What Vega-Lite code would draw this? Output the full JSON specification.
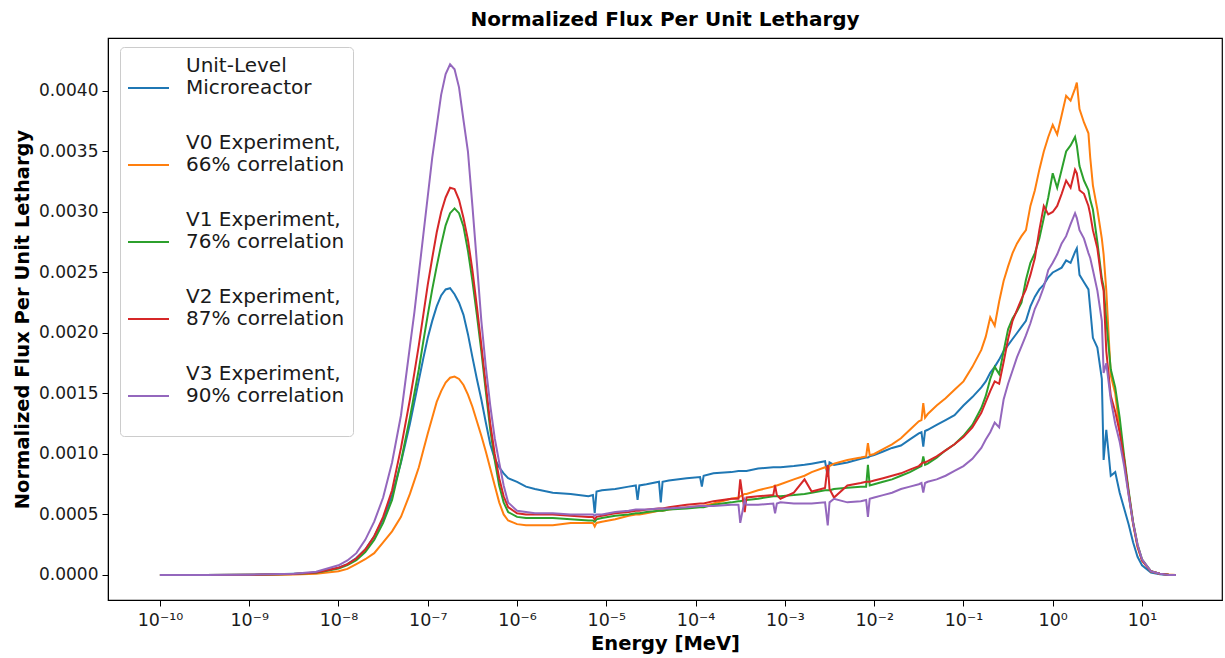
{
"$schema": "https://vega.github.io/schema/vega-lite/v6.json",
"width": 1114, "height": 562,
"autosize": {"type": "none"},
"padding": {"left": 108, "top": 38, "right": 3, "bottom": 58},
"background": "white",
"title": {"text": "Normalized Flux Per Unit Lethargy", "font": "DejaVu Sans", "fontSize": 20, "fontWeight": "bold", "color": "black", "offset": 8, "anchor": "middle"},
"config": {"view": {"stroke": "black", "strokeWidth": 1.2}, "font": "DejaVu Sans"},
"data": {"values": [
{"E":1e-10,"UL":0,"V0":0,"V1":0,"V2":0,"V3":0},
{"E":3.162e-10,"UL":0,"V0":0,"V1":0,"V2":0,"V3":0},
{"E":1e-9,"UL":0.000001,"V0":0,"V1":0.000001,"V2":0.000001,"V3":0.000002},
{"E":3.162e-9,"UL":0.00001,"V0":0.000003,"V1":0.000007,"V2":0.000008,"V3":0.00001},
{"E":5.623e-9,"UL":0.000017,"V0":0.00001,"V1":0.000018,"V2":0.00002,"V3":0.000027},
{"E":1e-8,"UL":0.00006,"V0":0.00003,"V1":0.000053,"V2":0.000059,"V3":0.00008},
{"E":1.259e-8,"UL":0.00009,"V0":0.00005,"V1":0.000081,"V2":0.00009,"V3":0.00012},
{"E":1.585e-8,"UL":0.00014,"V0":0.00009,"V1":0.000122,"V2":0.000136,"V3":0.00018},
{"E":1.995e-8,"UL":0.00021,"V0":0.00013,"V1":0.00019,"V2":0.00021,"V3":0.00029},
{"E":2.512e-8,"UL":0.00032,"V0":0.00018,"V1":0.00029,"V2":0.00032,"V3":0.00044},
{"E":3.162e-8,"UL":0.00046,"V0":0.00027,"V1":0.00043,"V2":0.00048,"V3":0.00064},
{"E":3.981e-8,"UL":0.00066,"V0":0.00036,"V1":0.00062,"V2":0.0007,"V3":0.00093},
{"E":5.012e-8,"UL":0.00093,"V0":0.00048,"V1":0.00094,"V2":0.00105,"V3":0.00132},
{"E":6.31e-8,"UL":0.00125,"V0":0.00067,"V1":0.0013,"V2":0.00145,"V3":0.00189},
{"E":7.079e-8,"UL":0.00143,"V0":0.00078,"V1":0.0015,"V2":0.00167,"V3":0.00217},
{"E":7.943e-8,"UL":0.00161,"V0":0.00089,"V1":0.0017,"V2":0.0019,"V3":0.00249},
{"E":8.913e-8,"UL":0.00179,"V0":0.00103,"V1":0.00193,"V2":0.00215,"V3":0.00281},
{"E":1e-7,"UL":0.00196,"V0":0.00117,"V1":0.00215,"V2":0.0024,"V3":0.00313},
{"E":1.122e-7,"UL":0.0021,"V0":0.0013,"V1":0.00236,"V2":0.00262,"V3":0.00345},
{"E":1.259e-7,"UL":0.00222,"V0":0.00143,"V1":0.00255,"V2":0.00283,"V3":0.00371},
{"E":1.413e-7,"UL":0.00231,"V0":0.00152,"V1":0.00273,"V2":0.003,"V3":0.00397},
{"E":1.585e-7,"UL":0.00236,"V0":0.00159,"V1":0.00289,"V2":0.00312,"V3":0.00414},
{"E":1.778e-7,"UL":0.00237,"V0":0.00163,"V1":0.00299,"V2":0.0032,"V3":0.00422},
{"E":1.995e-7,"UL":0.00232,"V0":0.00164,"V1":0.00303,"V2":0.00319,"V3":0.00418},
{"E":2.239e-7,"UL":0.00225,"V0":0.00162,"V1":0.00299,"V2":0.0031,"V3":0.00403},
{"E":2.512e-7,"UL":0.00215,"V0":0.00157,"V1":0.00288,"V2":0.00295,"V3":0.00376},
{"E":2.818e-7,"UL":0.00199,"V0":0.00149,"V1":0.00268,"V2":0.00277,"V3":0.0035},
{"E":3.162e-7,"UL":0.0018,"V0":0.00139,"V1":0.00243,"V2":0.00252,"V3":0.00305},
{"E":3.548e-7,"UL":0.00162,"V0":0.00127,"V1":0.00215,"V2":0.00222,"V3":0.00258},
{"E":3.981e-7,"UL":0.00145,"V0":0.00115,"V1":0.00185,"V2":0.0019,"V3":0.0021},
{"E":4.467e-7,"UL":0.00126,"V0":0.00102,"V1":0.00152,"V2":0.00157,"V3":0.00172},
{"E":5.012e-7,"UL":0.00108,"V0":0.00088,"V1":0.0012,"V2":0.00125,"V3":0.0014},
{"E":5.623e-7,"UL":0.00096,"V0":0.00074,"V1":0.00095,"V2":0.001,"V3":0.00113},
{"E":6.31e-7,"UL":0.00089,"V0":0.0006,"V1":0.00074,"V2":0.0008,"V3":0.00093},
{"E":7.079e-7,"UL":0.00084,"V0":0.0005,"V1":0.0006,"V2":0.00065,"V3":0.00074},
{"E":7.943e-7,"UL":0.0008,"V0":0.00045,"V1":0.00052,"V2":0.00056,"V3":0.0006},
{"E":1e-6,"UL":0.00077,"V0":0.00042,"V1":0.00048,"V2":0.00051,"V3":0.00053},
{"E":1.259e-6,"UL":0.00073,"V0":0.00041,"V1":0.00047,"V2":0.0005,"V3":0.00052},
{"E":1.585e-6,"UL":0.00071,"V0":0.00041,"V1":0.00047,"V2":0.0005,"V3":0.00051},
{"E":2.512e-6,"UL":0.00068,"V0":0.00041,"V1":0.00047,"V2":0.0005,"V3":0.00051},
{"E":3.981e-6,"UL":0.00067,"V0":0.00043,"V1":0.00046,"V2":0.00049,"V3":0.0005},
{"E":6.31e-6,"UL":0.00065,"V0":0.00043,"V1":0.00045,"V2":0.00048,"V3":0.0005},
{"E":7.079e-6,"UL":0.00066,"V0":0.00043,"V1":0.00045,"V2":0.00048,"V3":0.0005},
{"E":7.413e-6,"UL":0.00051,"V0":0.0004,"V1":0.00044,"V2":0.00046,"V3":0.00049},
{"E":7.762e-6,"UL":0.00069,"V0":0.00043,"V1":0.00046,"V2":0.00048,"V3":0.0005},
{"E":8.913e-6,"UL":0.0007,"V0":0.00044,"V1":0.00047,"V2":0.00049,"V3":0.0005},
{"E":1.259e-5,"UL":0.00071,"V0":0.00046,"V1":0.00049,"V2":0.00051,"V3":0.00052},
{"E":1.778e-5,"UL":0.00073,"V0":0.00049,"V1":0.0005,"V2":0.00052,"V3":0.00053},
{"E":2.138e-5,"UL":0.00074,"V0":0.0005,"V1":0.00051,"V2":0.00053,"V3":0.00054},
{"E":2.239e-5,"UL":0.00062,"V0":0.0005,"V1":0.00051,"V2":0.00053,"V3":0.00054},
{"E":2.344e-5,"UL":0.00074,"V0":0.0005,"V1":0.00051,"V2":0.00053,"V3":0.00054},
{"E":2.818e-5,"UL":0.00075,"V0":0.00051,"V1":0.00052,"V2":0.00054,"V3":0.00054},
{"E":3.89e-5,"UL":0.00077,"V0":0.00053,"V1":0.00053,"V2":0.00055,"V3":0.00055},
{"E":4.074e-5,"UL":0.0006,"V0":0.00053,"V1":0.00053,"V2":0.00055,"V3":0.00055},
{"E":4.266e-5,"UL":0.00077,"V0":0.00053,"V1":0.00053,"V2":0.00055,"V3":0.00055},
{"E":5.012e-5,"UL":0.00078,"V0":0.00054,"V1":0.00054,"V2":0.00056,"V3":0.00055},
{"E":7.943e-5,"UL":0.0008,"V0":0.00056,"V1":0.00055,"V2":0.00058,"V3":0.00056},
{"E":1.122e-4,"UL":0.00081,"V0":0.00057,"V1":0.00056,"V2":0.00059,"V3":0.00057},
{"E":1.175e-4,"UL":0.00073,"V0":0.00057,"V1":0.00056,"V2":0.00059,"V3":0.00057},
{"E":1.23e-4,"UL":0.00082,"V0":0.00057,"V1":0.00056,"V2":0.00059,"V3":0.00057},
{"E":1.585e-4,"UL":0.00084,"V0":0.00059,"V1":0.00058,"V2":0.00061,"V3":0.00057},
{"E":2.512e-4,"UL":0.00085,"V0":0.00063,"V1":0.0006,"V2":0.00063,"V3":0.00058},
{"E":3.02e-4,"UL":0.00086,"V0":0.00064,"V1":0.00061,"V2":0.00063,"V3":0.00058},
{"E":3.162e-4,"UL":0.00086,"V0":0.00065,"V1":0.00061,"V2":0.00079,"V3":0.00043},
{"E":3.548e-4,"UL":0.00086,"V0":0.00067,"V1":0.00062,"V2":0.00052,"V3":0.00062},
{"E":3.715e-4,"UL":0.00086,"V0":0.00067,"V1":0.00062,"V2":0.00064,"V3":0.00058},
{"E":5.012e-4,"UL":0.00088,"V0":0.0007,"V1":0.00063,"V2":0.00065,"V3":0.00058},
{"E":7.413e-4,"UL":0.00089,"V0":0.00073,"V1":0.00065,"V2":0.00066,"V3":0.00059},
{"E":7.762e-4,"UL":0.00089,"V0":0.00074,"V1":0.00065,"V2":0.00074,"V3":0.00051},
{"E":8.128e-4,"UL":0.00089,"V0":0.00074,"V1":0.00065,"V2":0.00066,"V3":0.00059},
{"E":8.913e-4,"UL":0.00089,"V0":0.00075,"V1":0.00065,"V2":0.00063,"V3":0.0006},
{"E":1.259e-3,"UL":0.0009,"V0":0.00079,"V1":0.00066,"V2":0.00068,"V3":0.00059},
{"E":1.66e-3,"UL":0.00091,"V0":0.00082,"V1":0.00067,"V2":0.00079,"V3":0.00059},
{"E":1.995e-3,"UL":0.00092,"V0":0.00085,"V1":0.00068,"V2":0.00069,"V3":0.00059},
{"E":2.818e-3,"UL":0.00094,"V0":0.00089,"V1":0.0007,"V2":0.00072,"V3":0.0006},
{"E":3.02e-3,"UL":0.00081,"V0":0.00086,"V1":0.0007,"V2":0.00091,"V3":0.00041},
{"E":3.162e-3,"UL":0.00093,"V0":0.0009,"V1":0.0007,"V2":0.00071,"V3":0.0006},
{"E":3.548e-3,"UL":0.00091,"V0":0.00092,"V1":0.00071,"V2":0.00064,"V3":0.00063},
{"E":5.012e-3,"UL":0.00093,"V0":0.00095,"V1":0.00072,"V2":0.00074,"V3":0.0006},
{"E":7.079e-3,"UL":0.00096,"V0":0.00097,"V1":0.00073,"V2":0.00076,"V3":0.00061},
{"E":8.128e-3,"UL":0.00097,"V0":0.00098,"V1":0.00073,"V2":0.00077,"V3":0.00062},
{"E":8.511e-3,"UL":0.00097,"V0":0.00109,"V1":0.00091,"V2":0.00077,"V3":0.00048},
{"E":8.913e-3,"UL":0.00098,"V0":0.00099,"V1":0.00074,"V2":0.00077,"V3":0.00063},
{"E":0.01,"UL":0.00099,"V0":0.001,"V1":0.00075,"V2":0.00078,"V3":0.00064},
{"E":0.01259,"UL":0.00102,"V0":0.00104,"V1":0.00077,"V2":0.0008,"V3":0.00066},
{"E":0.01585,"UL":0.00105,"V0":0.00108,"V1":0.00079,"V2":0.00082,"V3":0.00068},
{"E":0.01995,"UL":0.00107,"V0":0.00113,"V1":0.00082,"V2":0.00084,"V3":0.00071},
{"E":0.02512,"UL":0.00112,"V0":0.0012,"V1":0.00085,"V2":0.00087,"V3":0.00073},
{"E":0.03162,"UL":0.00117,"V0":0.00127,"V1":0.00089,"V2":0.0009,"V3":0.00075},
{"E":0.03388,"UL":0.00118,"V0":0.00128,"V1":0.0009,"V2":0.00092,"V3":0.00076},
{"E":0.03548,"UL":0.00106,"V0":0.00142,"V1":0.00098,"V2":0.00093,"V3":0.00068},
{"E":0.03715,"UL":0.00119,"V0":0.0013,"V1":0.00091,"V2":0.00093,"V3":0.00076},
{"E":0.03981,"UL":0.0012,"V0":0.00133,"V1":0.00092,"V2":0.00094,"V3":0.00077},
{"E":0.05012,"UL":0.00124,"V0":0.0014,"V1":0.00097,"V2":0.00098,"V3":0.00079},
{"E":0.0631,"UL":0.00128,"V0":0.00146,"V1":0.00103,"V2":0.00103,"V3":0.00082},
{"E":0.07943,"UL":0.00132,"V0":0.00153,"V1":0.00108,"V2":0.00108,"V3":0.00086},
{"E":0.1,"UL":0.0014,"V0":0.0016,"V1":0.00115,"V2":0.00114,"V3":0.0009},
{"E":0.1259,"UL":0.00147,"V0":0.00172,"V1":0.00124,"V2":0.00122,"V3":0.00096},
{"E":0.1585,"UL":0.00155,"V0":0.00186,"V1":0.00138,"V2":0.00134,"V3":0.00105},
{"E":0.1778,"UL":0.0016,"V0":0.00197,"V1":0.00148,"V2":0.00143,"V3":0.00112},
{"E":0.1995,"UL":0.00167,"V0":0.00213,"V1":0.00162,"V2":0.00152,"V3":0.00118},
{"E":0.2239,"UL":0.00172,"V0":0.00206,"V1":0.00172,"V2":0.0016,"V3":0.00126},
{"E":0.2512,"UL":0.00178,"V0":0.00226,"V1":0.00166,"V2":0.00158,"V3":0.00122},
{"E":0.2818,"UL":0.00185,"V0":0.00243,"V1":0.00185,"V2":0.00176,"V3":0.00145},
{"E":0.3162,"UL":0.0019,"V0":0.00255,"V1":0.00203,"V2":0.00195,"V3":0.00158},
{"E":0.3548,"UL":0.00195,"V0":0.00266,"V1":0.00212,"V2":0.0021,"V3":0.00169},
{"E":0.3981,"UL":0.002,"V0":0.00274,"V1":0.00218,"V2":0.00219,"V3":0.0018},
{"E":0.4467,"UL":0.00205,"V0":0.0028,"V1":0.00225,"V2":0.00228,"V3":0.00189},
{"E":0.5012,"UL":0.0021,"V0":0.00285,"V1":0.00244,"V2":0.00236,"V3":0.00198},
{"E":0.5623,"UL":0.00222,"V0":0.00305,"V1":0.00258,"V2":0.00248,"V3":0.00208},
{"E":0.631,"UL":0.0023,"V0":0.00318,"V1":0.00266,"V2":0.00262,"V3":0.0022},
{"E":0.7079,"UL":0.00236,"V0":0.00335,"V1":0.00278,"V2":0.00285,"V3":0.00228},
{"E":0.7943,"UL":0.0024,"V0":0.0035,"V1":0.00295,"V2":0.00305,"V3":0.00238},
{"E":0.8913,"UL":0.00246,"V0":0.00362,"V1":0.00312,"V2":0.00298,"V3":0.00252},
{"E":1,"UL":0.0025,"V0":0.00372,"V1":0.00332,"V2":0.003,"V3":0.00258},
{"E":1.122,"UL":0.00252,"V0":0.00364,"V1":0.0032,"V2":0.00305,"V3":0.00265},
{"E":1.259,"UL":0.00254,"V0":0.0038,"V1":0.00335,"V2":0.00315,"V3":0.00274},
{"E":1.413,"UL":0.0026,"V0":0.00396,"V1":0.0035,"V2":0.00326,"V3":0.0028},
{"E":1.585,"UL":0.00258,"V0":0.00392,"V1":0.00355,"V2":0.0032,"V3":0.0029},
{"E":1.778,"UL":0.00267,"V0":0.00402,"V1":0.00362,"V2":0.00335,"V3":0.00299},
{"E":1.862,"UL":0.0027,"V0":0.00407,"V1":0.00355,"V2":0.00332,"V3":0.00295},
{"E":1.995,"UL":0.00248,"V0":0.00385,"V1":0.00338,"V2":0.00318,"V3":0.00285},
{"E":2.239,"UL":0.00242,"V0":0.00374,"V1":0.00326,"V2":0.00315,"V3":0.00278},
{"E":2.512,"UL":0.00236,"V0":0.00365,"V1":0.00318,"V2":0.00305,"V3":0.00266},
{"E":2.63,"UL":0.0022,"V0":0.00345,"V1":0.0031,"V2":0.00298,"V3":0.00262},
{"E":2.818,"UL":0.00196,"V0":0.00322,"V1":0.00302,"V2":0.00285,"V3":0.00252},
{"E":3.162,"UL":0.00188,"V0":0.00302,"V1":0.00275,"V2":0.0027,"V3":0.00235},
{"E":3.548,"UL":0.00162,"V0":0.00278,"V1":0.00245,"V2":0.00242,"V3":0.0021},
{"E":3.715,"UL":0.00095,"V0":0.00265,"V1":0.00238,"V2":0.00235,"V3":0.00167},
{"E":3.981,"UL":0.0012,"V0":0.00235,"V1":0.0021,"V2":0.00185,"V3":0.00175},
{"E":4.467,"UL":0.00082,"V0":0.00165,"V1":0.0017,"V2":0.00148,"V3":0.00145},
{"E":5.012,"UL":0.00085,"V0":0.0015,"V1":0.00155,"V2":0.00135,"V3":0.00125},
{"E":5.623,"UL":0.00068,"V0":0.0012,"V1":0.0013,"V2":0.00118,"V3":0.0011},
{"E":6.31,"UL":0.00055,"V0":0.00095,"V1":0.00098,"V2":0.00095,"V3":0.0009},
{"E":7.079,"UL":0.00042,"V0":0.00067,"V1":0.0007,"V2":0.00068,"V3":0.00066},
{"E":7.943,"UL":0.00027,"V0":0.00042,"V1":0.00044,"V2":0.00043,"V3":0.00043},
{"E":8.913,"UL":0.00015,"V0":0.00023,"V1":0.00025,"V2":0.00024,"V3":0.00025},
{"E":10,"UL":0.00008,"V0":0.00012,"V1":0.00013,"V2":0.00012,"V3":0.00013},
{"E":12.59,"UL":0.00002,"V0":0.00003,"V1":0.00003,"V2":0.00003,"V3":0.00003},
{"E":15.85,"UL":0.000005,"V0":0.00001,"V1":0.00001,"V2":0.00001,"V3":0.00001},
{"E":19.95,"UL":0,"V0":0.000003,"V1":0.000002,"V2":0.000002,"V3":0},
{"E":23.99,"UL":0,"V0":0,"V1":0,"V2":0,"V3":0}
]},
"transform": [{"fold": ["UL", "V0", "V1", "V2", "V3"], "as": ["series", "flux"]}],
"mark": {"type": "line", "strokeWidth": 2, "clip": true},
"encoding": {
  "x": {"field": "E", "type": "quantitative",
    "scale": {"type": "log", "domain": [2.62e-11, 78.7], "nice": false},
    "axis": {"title": "Energy [MeV]", "values": [1e-10, 1e-9, 1e-8, 1e-7, 1e-6, 1e-5, 1e-4, 0.001, 0.01, 0.1, 1, 10],
      "labelExpr": "['10⁻¹⁰','10⁻⁹','10⁻⁸','10⁻⁷','10⁻⁶','10⁻⁵','10⁻⁴','10⁻³','10⁻²','10⁻¹','10⁰','10¹'][round(log(datum.value)/LN10)+10]",
      "grid": false, "tickSize": 6, "tickColor": "black", "domainColor": "black", "labelFont": "DejaVu Sans", "labelFontSize": 17.5, "labelColor": "#1a1a1a", "labelPadding": 5,
      "titleFont": "DejaVu Sans", "titleFontSize": 19.5, "titleFontWeight": "bold", "titleColor": "black", "titlePadding": 6}},
  "y": {"field": "flux", "type": "quantitative",
    "scale": {"domain": [-0.000207, 0.004438], "nice": false, "zero": false},
    "axis": {"title": "Normalized Flux Per Unit Lethargy", "values": [0, 0.0005, 0.001, 0.0015, 0.002, 0.0025, 0.003, 0.0035, 0.004], "format": ".4f",
      "grid": false, "tickSize": 6, "tickColor": "black", "domainColor": "black", "labelFont": "DejaVu Sans", "labelFontSize": 17, "labelColor": "#1a1a1a", "labelPadding": 4,
      "titleFont": "DejaVu Sans", "titleFontSize": 19.5, "titleFontWeight": "bold", "titleColor": "black", "titlePadding": 6}},
  "color": {"field": "series", "type": "nominal",
    "scale": {"domain": ["UL", "V0", "V1", "V2", "V3"], "range": ["#1f77b4", "#ff7f0e", "#2ca02c", "#d62728", "#9467bd"]},
    "legend": {"orient": "none", "legendX": 12, "legendY": 9, "title": " ", "titleOrient": "bottom", "titleFontSize": 16, "titlePadding": 6,
      "labelExpr": "datum.label == 'UL' ? ['Unit-Level','Microreactor'] : datum.label == 'V0' ? ['V0 Experiment,','66% correlation'] : datum.label == 'V1' ? ['V1 Experiment,','76% correlation'] : datum.label == 'V2' ? ['V2 Experiment,','87% correlation'] : ['V3 Experiment,','90% correlation']",
      "labelFont": "DejaVu Sans", "labelFontSize": 20, "labelLineHeight": 22, "labelColor": "#1a1a1a", "labelLimit": 400, "labelOffset": 36,
      "symbolType": "M-1.1,2.2L3,2.2", "symbolSize": 400, "symbolStrokeWidth": 2,
      "rowPadding": 34, "padding": 8, "strokeColor": "#cccccc", "fillColor": "white", "cornerRadius": 4}}
}
}
